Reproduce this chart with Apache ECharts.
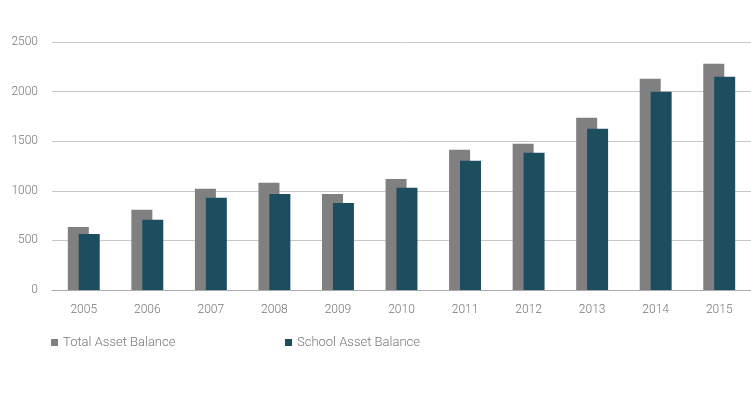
<!DOCTYPE html>
<html>
<head>
<meta charset="utf-8">
<script src="https://cdn.jsdelivr.net/npm/echarts@6/dist/echarts.min.js"></script>
<style>html,body{margin:0;padding:0;background:#fff}#c{width:751px;height:395px}</style>
</head>
<body>
<div id="c"></div>
<script>
const categories = ['2005','2006','2007','2008','2009','2010','2011','2012','2013','2014','2015'];
const totalAssetBalance = [636, 808, 1020, 1080, 969, 1120, 1413, 1474, 1736, 2130, 2281];
const schoolAssetBalance = [565, 707, 929, 969, 878, 1030, 1302, 1383, 1625, 1999, 2150];
const yTicks = { min: 0, max: 2500, interval: 500 };

const font = 'Roboto';
const textColor = '#777';
const chart = echarts.init(document.getElementById('c'), null, { renderer: 'canvas' });
const legendCommon = { itemWidth: 7, itemHeight: 7, icon: 'rect', padding: 0, itemGap: 0,
  textStyle: { color: textColor, fontFamily: font, fontSize: 13, fontWeight: 300 } };
chart.setOption({
  animation: false,
  backgroundColor: '#fff',
  grid: { left: 52, right: 0, top: 42, bottom: 105, containLabel: false },
  legend: [
    Object.assign({ data: ['Total Asset Balance'], left: 51, top: 336 }, legendCommon),
    Object.assign({ data: ['School Asset Balance'], left: 285, top: 336 }, legendCommon)
  ],
  xAxis: {
    type: 'category',
    data: categories,
    axisLine: { lineStyle: { color: '#aaa' } },
    axisTick: { show: false },
    axisLabel: { color: textColor, fontFamily: font, fontSize: 12, fontWeight: 300, margin: 14 }
  },
  yAxis: {
    type: 'value',
    min: yTicks.min, max: yTicks.max, interval: yTicks.interval,
    axisLine: { show: false },
    axisTick: { show: false },
    splitLine: { lineStyle: { color: '#c8c8c8' } },
    axisLabel: { color: textColor, fontFamily: font, fontSize: 12, fontWeight: 300, margin: 14,
      formatter: v => String(v) }
  },
  series: [
    { name: 'Total Asset Balance', type: 'bar', data: totalAssetBalance, barWidth: 21, barGap: '-48%',
      itemStyle: { color: '#808080' } },
    { name: 'School Asset Balance', type: 'bar', data: schoolAssetBalance, barWidth: 21,
      itemStyle: { color: '#1d4e5f' } }
  ]
});
</script>
</body>
</html>
